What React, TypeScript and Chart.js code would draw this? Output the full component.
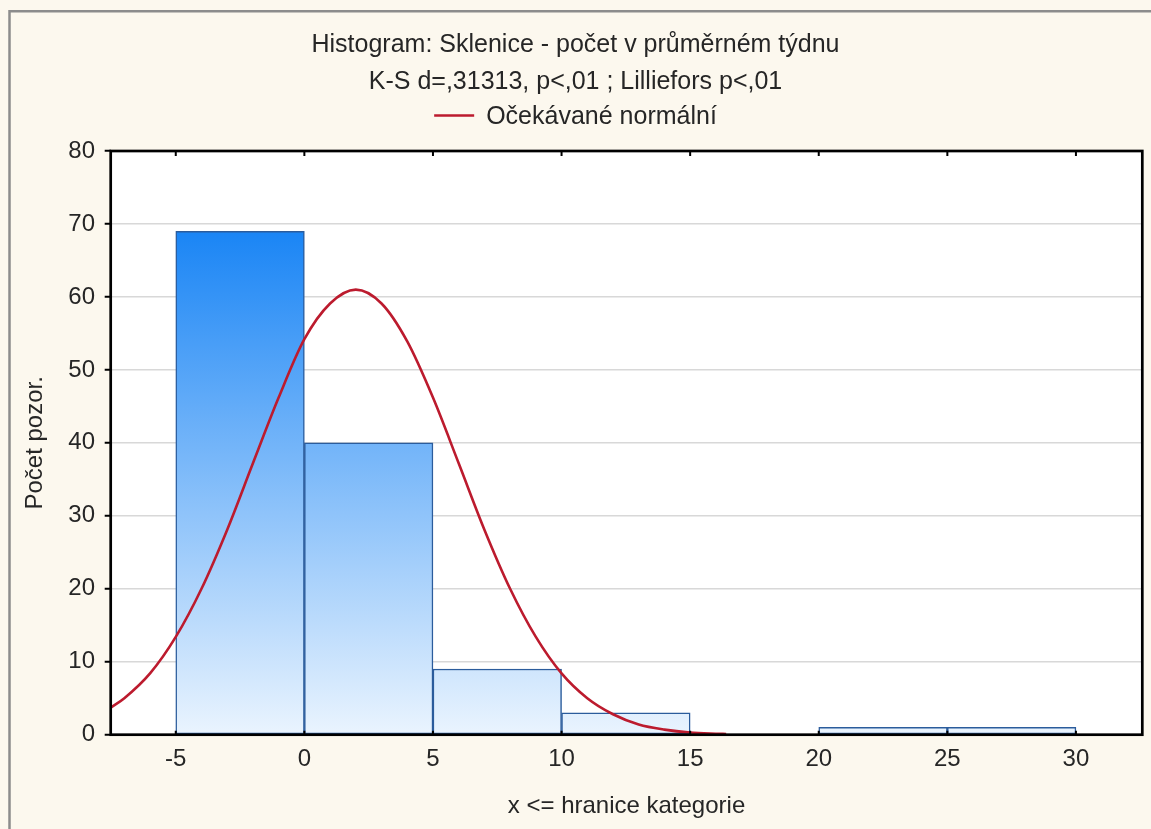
import { useEffect, useRef } from "react";
import { Chart, registerables } from "chart.js";

Chart.register(...registerables);

// ---- texts ----
const titleLine1 = "Histogram: Sklenice - počet v průměrném týdnu";
const titleLine2 = "K-S d=,31313, p<,01 ; Lilliefors p<,01";
const legendLabel = "Očekávané normální";
const xAxisTitle = "x <= hranice kategorie";
const yAxisTitle = "Počet pozor.";

// ---- histogram bins ----
const binLower = [-5, 0, 5, 10, 20, 25];
const binUpper = [0, 5, 10, 15, 25, 30];
const binCounts = [69, 40, 9, 3, 1, 1];

// ---- tick labels ----
const xTicks = [-5, 0, 5, 10, 15, 20, 25, 30];
const yTicks = [0, 10, 20, 30, 40, 50, 60, 70, 80];

// ---- expected normal curve ----
const curveX = [-7.53, -7, -6, -5, -4, -3, -2, -1, 0, 1, 2, 3, 4, 5, 6, 7, 8, 9, 10, 11, 12, 13, 14, 15, 16, 16.4];
const curveY = [3.7, 5.0, 8.4, 13.4, 20.0, 28.1, 37.2, 46.2, 54.2, 59.1, 61.0, 59.1, 53.9, 46.2, 37.2, 28.1, 20.0, 13.4, 8.4, 5.0, 2.8, 1.4, 0.7, 0.3, 0.14, 0.1];

// ---- axis ranges ----
const X_MIN = -7.53;
const X_MAX = 32.58;
const Y_MIN = 0;
const Y_MAX = 80;

const FONT = '"Liberation Sans", Arial, sans-serif';
const TEXT = "#262626";
const RED = "#BC1B2E";
const BG = "#FCF8EE";
const W = 1151;
const H = 829;

const decorPlugin = {
  id: "decor",
  beforeDraw(chart: any) {
    const { ctx, width, height, chartArea } = chart;
    ctx.save();
    ctx.fillStyle = BG;
    ctx.fillRect(0, 0, width, height);
    ctx.strokeStyle = "#8c8c8c";
    ctx.lineWidth = 2.5;
    ctx.beginPath();
    ctx.moveTo(9.5, height);
    ctx.lineTo(9.5, 11.3);
    ctx.lineTo(width, 11.3);
    ctx.stroke();
    ctx.fillStyle = "#ffffff";
    ctx.fillRect(chartArea.left, chartArea.top, chartArea.right - chartArea.left, chartArea.bottom - chartArea.top);
    ctx.restore();
  },
  afterDraw(chart: any) {
    const { ctx, width, chartArea } = chart;
    ctx.save();
    const cx = width / 2;
    ctx.fillStyle = TEXT;
    ctx.font = `25px ${FONT}`;
    ctx.textAlign = "center";
    ctx.textBaseline = "alphabetic";
    ctx.fillText(titleLine1, cx, 51.7);
    ctx.fillText(titleLine2, cx, 89.3);
    // legend
    const tw = ctx.measureText(legendLabel).width;
    const lineLen = 40;
    const gap = 12;
    const x0 = cx - (lineLen + gap + tw) / 2;
    ctx.strokeStyle = RED;
    ctx.lineWidth = 2.6;
    ctx.beginPath();
    ctx.moveTo(x0, 115.5);
    ctx.lineTo(x0 + lineLen, 115.5);
    ctx.stroke();
    ctx.textAlign = "left";
    ctx.fillText(legendLabel, x0 + lineLen + gap, 124);
    // frame
    ctx.strokeStyle = "#000";
    ctx.lineWidth = 2.7;
    ctx.strokeRect(chartArea.left, chartArea.top, chartArea.right - chartArea.left, chartArea.bottom - chartArea.top);
    // inward ticks top/bottom
    const xs = chart.scales.x;
    ctx.lineWidth = 2;
    ctx.beginPath();
    for (const v of xTicks) {
      const px = xs.getPixelForValue(v);
      ctx.moveTo(px, chartArea.top);
      ctx.lineTo(px, chartArea.top + 5);
      ctx.moveTo(px, chartArea.bottom);
      ctx.lineTo(px, chartArea.bottom - 4);
    }
    ctx.stroke();
    ctx.restore();
  },
};

export default function App() {
  const ref = useRef<HTMLCanvasElement>(null);
  useEffect(() => {
    document.body.style.margin = "0";
    Chart.defaults.font.family = FONT;
    const barData = binLower.map((lo, i) => ({ x: (lo + binUpper[i]) / 2, y: binCounts[i] }));
    const curveData = curveX.map((x, i) => ({ x, y: curveY[i] }));
    const chart = new Chart(ref.current!, {
      type: "bar",
      data: {
        datasets: [
          {
            type: "line",
            label: legendLabel,
            data: curveData,
            borderColor: RED,
            borderWidth: 2.6,
            pointRadius: 0,
            fill: false,
            cubicInterpolationMode: "monotone",
            order: 0,
          } as any,
          {
            type: "bar",
            label: "Počet",
            data: barData,
            backgroundColor: (c: any) => {
              const ch = c.chart;
              if (!ch.chartArea) return "#6ab4f8";
              const ys = ch.scales.y;
              const g = ch.ctx.createLinearGradient(0, ys.getPixelForValue(0), 0, ys.getPixelForValue(Math.max(...binCounts)));
              g.addColorStop(0, "#EAF4FE");
              g.addColorStop(1, "#1A85F5");
              return g;
            },
            borderColor: "#2B5C9C",
            borderWidth: 1.5,
            borderSkipped: false,
            barPercentage: 1,
            categoryPercentage: 1,
            grouped: false,
            order: 1,
          } as any,
        ],
      },
      options: {
        animation: false,
        responsive: false,
        devicePixelRatio: 1,
        layout: { padding: { top: 151, left: 10, right: 8.7, bottom: 0 } },
        plugins: {
          legend: { display: false },
          title: { display: false },
          tooltip: { enabled: false },
        },
        scales: {
          x: {
            type: "linear",
            offset: false,
            min: X_MIN,
            max: X_MAX,
            afterBuildTicks: (s: any) => {
              s.ticks = xTicks.map((v) => ({ value: v }));
            },
            afterFit: (s: any) => {
              s.height = H - 734.7;
            },
            grid: { display: false, drawTicks: false, offset: false },
            border: { display: false },
            ticks: { font: { size: 24 }, color: TEXT, padding: 10, maxRotation: 0 },
            title: { display: true, text: xAxisTitle, font: { size: 24 }, color: TEXT, padding: { top: 0, bottom: 8.1 } },
          },
          y: {
            type: "linear",
            min: Y_MIN,
            max: Y_MAX,
            afterBuildTicks: (s: any) => {
              s.ticks = yTicks.map((v) => ({ value: v }));
            },
            afterFit: (s: any) => {
              s.width = 110.7 - 10;
            },
            grid: { color: "#d8d8d8", lineWidth: 1.5, tickColor: "#000", tickLength: 6, tickWidth: 2, drawTicks: true },
            border: { display: false },
            ticks: { font: { size: 24 }, color: TEXT, padding: 9.7 },
            title: { display: true, text: yAxisTitle, font: { size: 24 }, color: TEXT, padding: { top: 10.6, bottom: 0 } },
          },
        },
      },
      plugins: [decorPlugin],
    } as any);
    return () => chart.destroy();
  }, []);
  return <canvas ref={ref} width={W} height={H} style={{ display: "block", width: W, height: H }} />;
}
